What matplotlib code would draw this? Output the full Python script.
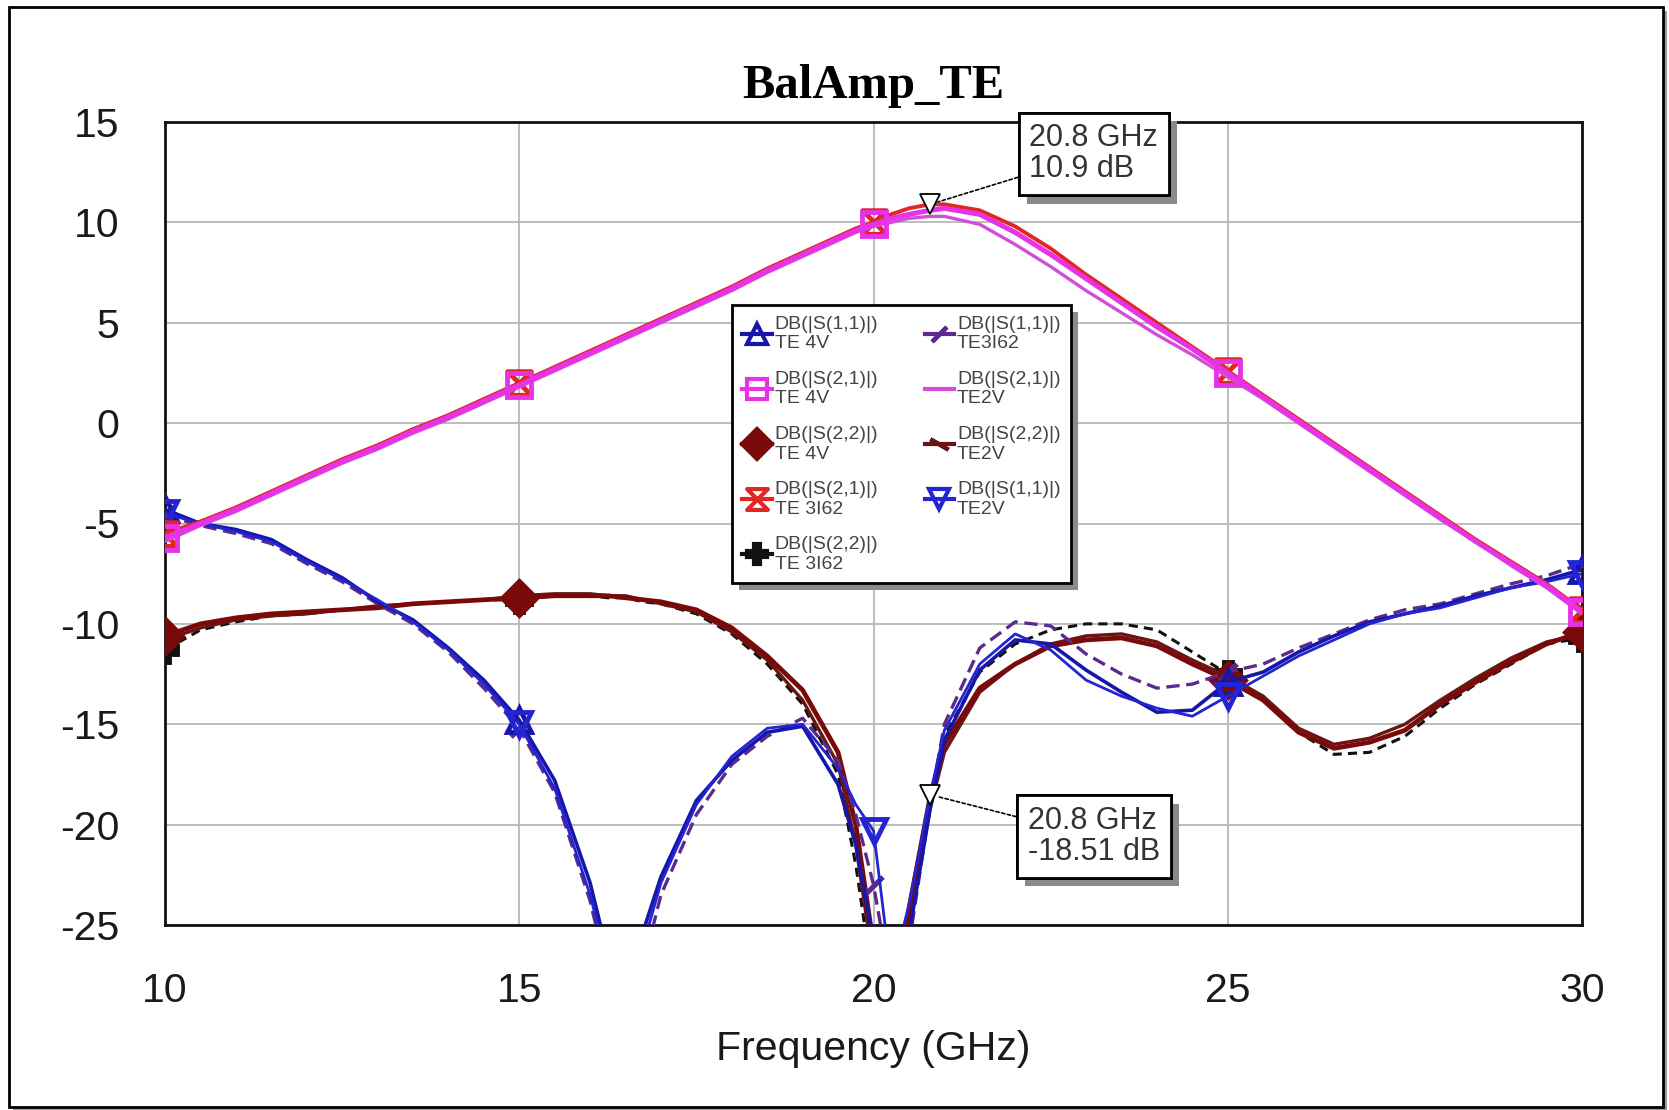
import numpy as np
import matplotlib
matplotlib.use("Agg")
import matplotlib.pyplot as plt
import matplotlib.patheffects as pe
from matplotlib.lines import Line2D
from matplotlib.patches import Rectangle
from matplotlib.path import Path

plt.rcParams['font.family'] = ['Liberation Sans', 'DejaVu Sans']
plt.rcParams['axes.unicode_minus'] = False

# frequency points (GHz)
freq = [10, 10.5, 11, 11.5, 12, 12.5, 13, 13.5, 14, 14.5, 15, 15.5, 16, 16.25, 16.5,
        16.75, 17, 17.5, 18, 18.5, 19, 19.5, 19.75, 20, 20.25, 20.5, 20.8, 21, 21.5,
        22, 22.5, 23, 23.5, 24, 24.5, 25, 25.5, 26, 26.5, 27, 27.5, 28, 28.5, 29,
        29.5, 30]

# S-parameters in dB
s11_4v = [-4.3, -5.0, -5.3, -5.8, -6.8, -7.7, -8.9, -9.8, -11.2, -12.8, -14.8, -17.8,
          -22.9, -26.5, -29.0, -25.3, -22.6, -18.8, -16.8, -15.4, -15.1, -18.0, -21.0,
          -25.8, -30.0, -25.5, -19.2, -15.8, -12.3, -10.8, -11.0, -12.3, -13.4, -14.4,
          -14.3, -12.9, -12.4, -11.4, -10.6, -9.9, -9.5, -9.1, -8.6, -8.2, -7.8, -7.3]
s11_2v = [-4.5, -5.0, -5.4, -5.9, -6.9, -7.8, -8.8, -9.9, -11.3, -13.0, -15.0, -18.2,
          -23.5, -27.0, -29.5, -26.0, -22.9, -19.0, -16.6, -15.2, -15.0, -17.2, -19.0,
          -20.3, -27.5, -24.0, -18.51, -15.3, -12.0, -10.5, -11.3, -12.8, -13.6, -14.2,
          -14.6, -13.6, -12.6, -11.6, -10.8, -10.0, -9.5, -9.2, -8.7, -8.2, -7.9, -7.5]
s11_3i62 = [-4.6, -5.1, -5.5, -6.0, -7.0, -7.9, -9.0, -10.0, -11.4, -13.2, -15.2, -18.4,
            -23.8, -27.5, -30.0, -27.0, -23.5, -19.5, -17.0, -15.6, -14.7, -16.8, -19.5,
            -23.0, -28.0, -26.0, -19.0, -15.0, -11.2, -9.9, -10.1, -11.5, -12.5, -13.2,
            -13.0, -12.4, -12.0, -11.2, -10.5, -9.8, -9.3, -9.0, -8.5, -8.0, -7.6, -7.0]

s21_4v = [-5.7, -5.0, -4.3, -3.5, -2.7, -1.9, -1.2, -0.4, 0.3, 1.1, 1.9, 2.7, 3.5, 3.9,
          4.3, 4.7, 5.1, 5.9, 6.7, 7.6, 8.4, 9.2, 9.6, 9.9, 10.2, 10.4, 10.6, 10.7, 10.4,
          9.5, 8.4, 7.2, 6.0, 4.8, 3.7, 2.5, 1.3, 0.1, -1.1, -2.3, -3.5, -4.7, -5.9, -7.0,
          -8.1, -9.4]
s21_2v = [-5.9, -5.1, -4.4, -3.6, -2.8, -2.0, -1.3, -0.5, 0.2, 1.0, 1.8, 2.6, 3.4, 3.8,
          4.2, 4.6, 5.0, 5.8, 6.6, 7.5, 8.3, 9.1, 9.5, 9.8, 10.0, 10.2, 10.3, 10.3, 9.9,
          8.9, 7.8, 6.6, 5.5, 4.4, 3.4, 2.3, 1.2, 0.0, -1.2, -2.4, -3.6, -4.8, -5.9, -7.1,
          -8.2, -9.5]
s21_3i62 = [-5.5, -4.9, -4.2, -3.4, -2.6, -1.8, -1.1, -0.3, 0.4, 1.2, 2.0, 2.8, 3.6, 4.0,
            4.4, 4.8, 5.2, 6.0, 6.8, 7.7, 8.5, 9.3, 9.7, 10.0, 10.4, 10.7, 10.9, 10.9,
            10.6, 9.8, 8.7, 7.4, 6.2, 5.0, 3.8, 2.6, 1.4, 0.2, -1.0, -2.2, -3.4, -4.6,
            -5.8, -6.9, -8.0, -9.3]

s22_4v = [-10.6, -10.0, -9.7, -9.5, -9.4, -9.3, -9.2, -9.0, -8.9, -8.8, -8.7, -8.6, -8.6,
          -8.6, -8.7, -8.8, -8.9, -9.3, -10.2, -11.6, -13.3, -16.4, -20.0, -26.0, -32.0,
          -24.2, -18.6, -16.0, -13.2, -12.0, -11.1, -10.8, -10.7, -11.1, -12.0, -12.8,
          -13.8, -15.4, -16.2, -15.9, -15.3, -14.0, -12.9, -11.9, -11.0, -10.4]
s22_2v = [-10.8, -10.2, -9.8, -9.6, -9.5, -9.3, -9.1, -9.0, -8.9, -8.8, -8.6, -8.5, -8.5,
          -8.6, -8.6, -8.8, -9.0, -9.4, -10.4, -11.8, -13.8, -17.0, -21.0, -27.0, -33.0,
          -24.8, -19.2, -16.4, -13.4, -12.0, -11.0, -10.6, -10.5, -10.9, -11.8, -12.6,
          -13.6, -15.2, -16.0, -15.7, -15.0, -13.8, -12.7, -11.7, -10.9, -10.5]
s22_3i62 = [-11.3, -10.3, -9.9, -9.6, -9.5, -9.3, -9.2, -9.0, -8.9, -8.8, -8.8, -8.6, -8.6,
            -8.7, -8.7, -8.9, -9.0, -9.5, -10.5, -12.0, -14.0, -17.5, -22.0, -28.0, -33.0,
            -25.0, -19.0, -15.6, -12.4, -11.0, -10.3, -10.0, -10.0, -10.3, -11.4, -12.5,
            -13.7, -15.4, -16.5, -16.4, -15.6, -14.2, -13.0, -12.0, -11.0, -10.7]

# marker readouts
marker_freq = [20.8, 20.8]
marker_db = [10.9, -18.51]

marker_every = [i for i, f in enumerate(freq) if f in (10, 15, 20, 25, 30)]

hourglass = Path([(-1, 1), (1, 1), (-1, -1), (1, -1), (-1, 1)],
                 [Path.MOVETO, Path.LINETO, Path.LINETO, Path.LINETO, Path.CLOSEPOLY])

# (data, legend text, color, linestyle, linewidth, marker, filled)
traces = [
    (s11_4v, "DB(|S(1,1)|)\nTE 4V", "#1616a8", "-", 2.6, "^", False),
    (s21_4v, "DB(|S(2,1)|)\nTE 4V", "#e633e6", "-", 3.6, "s", False),
    (s22_4v, "DB(|S(2,2)|)\nTE 4V", "#7a0a0a", "-", 3.4, "D", True),
    (s21_3i62, "DB(|S(2,1)|)\nTE 3I62", "#e22626", "-", 2.8, hourglass, False),
    (s22_3i62, "DB(|S(2,2)|)\nTE 3I62", "#111111", (0, (3, 2)), 2.2, "P", True),
    (s11_3i62, "DB(|S(1,1)|)\nTE3I62", "#5c2a8c", (0, (4, 2)), 2.4, (2, 2, -45), False),
    (s21_2v, "DB(|S(2,1)|)\nTE2V", "#d24ed8", "-", 2.4, None, False),
    (s22_2v, "DB(|S(2,2)|)\nTE2V", "#6a1414", "-", 2.4, (2, 2, 60), False),
    (s11_2v, "DB(|S(1,1)|)\nTE2V", "#2424d2", "-", 2.0, "v", False),
]
draw_order = [4, 7, 2, 5, 0, 8, 3, 6, 1]

fig = plt.figure(figsize=(16.69, 11.10), dpi=100)

# outer frame with shadow
fig.add_artist(Rectangle((13 / 1669, 0), 1654 / 1669, 1099 / 1110, transform=fig.transFigure,
                         fc="#9a9a9a", ec="none", zorder=0))
fig.add_artist(Rectangle((9 / 1669, 3 / 1110), 1654 / 1669, 1100 / 1110, transform=fig.transFigure,
                         fc="white", ec="black", lw=2, zorder=0.5))

ax = fig.add_axes([165 / 1669, 185 / 1110, 1417 / 1669, 803 / 1110])
ax.set_zorder(1)

for k, i in enumerate(draw_order):
    y, label, color, ls, lw, mk, filled = traces[i]
    ax.plot(freq, y, color=color, ls=ls, lw=lw, marker=mk, markevery=marker_every,
            ms=17, mew=3.5, mfc=color if filled else "none", mec=color, zorder=3 + k * 0.01)

handles = []
for y, label, color, ls, lw, mk, filled in traces:
    handles.append(Line2D([], [], color=color, lw=3, marker=mk, ms=15, mew=3,
                          mfc=color if filled else "none", mec=color))

ax.plot(marker_freq, marker_db, ls="none", marker="v", ms=15, mfc="white", mec="black",
        mew=1.3, zorder=6)

ax.set_xlim(10, 30)
ax.set_ylim(-25, 15)
ax.set_xticks(np.arange(10, 31, 5))
ax.set_yticks(np.arange(-25, 16, 5))
ax.grid(True, color="#b8b8b8", lw=1.3)
ax.set_axisbelow(True)
for sp in ax.spines.values():
    sp.set_linewidth(2)
    sp.set_color("#111111")
ax.tick_params(length=0, labelsize=29.5, labelcolor="#1a1a1a")
ax.tick_params(axis="y", pad=33)
ax.tick_params(axis="x", pad=34)
ax.set_xlabel("Frequency (GHz)", fontsize=29.5, color="#1a1a1a", labelpad=14)
ax.set_title("BalAmp_TE", fontsize=35, fontweight="bold", family="Liberation Serif", pad=17)

leg = ax.legend(handles, [t[1] for t in traces], ncol=2, loc="upper left",
                bbox_to_anchor=(0.4, 0.772), fontsize=14, labelcolor="#444444",
                frameon=True, fancybox=False, edgecolor="black", framealpha=1,
                shadow={"ox": 5, "oy": -5, "facecolor": "#8a8a8a", "edgecolor": "none", "alpha": 1},
                handlelength=1.5, handletextpad=0.15, columnspacing=2.4,
                labelspacing=0.95, borderpad=0.55, borderaxespad=0)
leg.get_frame().set_linewidth(2)
leg.set_zorder(7)

# marker readout boxes
for fx, db, tx, ty in [(marker_freq[0], marker_db[0], 23.11, 13.41),
                       (marker_freq[1], marker_db[1], 23.11, -20.59)]:
    txt = ax.annotate(f"{fx:g} GHz\n{db:g} dB", xy=(fx, db), xytext=(tx, ty),
                      ha="center", va="center", multialignment="left", fontsize=22,
                      color="#333333", linespacing=1.05, annotation_clip=False,
                      bbox=dict(boxstyle="square,pad=0.35", fc="white", ec="black", lw=2),
                      arrowprops=dict(arrowstyle="-", ls=(0, (2, 1.5)), color="black", lw=1.2,
                                      shrinkA=0, shrinkB=6),
                      zorder=8)
    txt.get_bbox_patch().set_path_effects([
        pe.withSimplePatchShadow(offset=(6, -6), shadow_rgbFace="#8a8a8a", alpha=1),
        pe.Normal()])

fig.savefig("out.png", dpi=100)
